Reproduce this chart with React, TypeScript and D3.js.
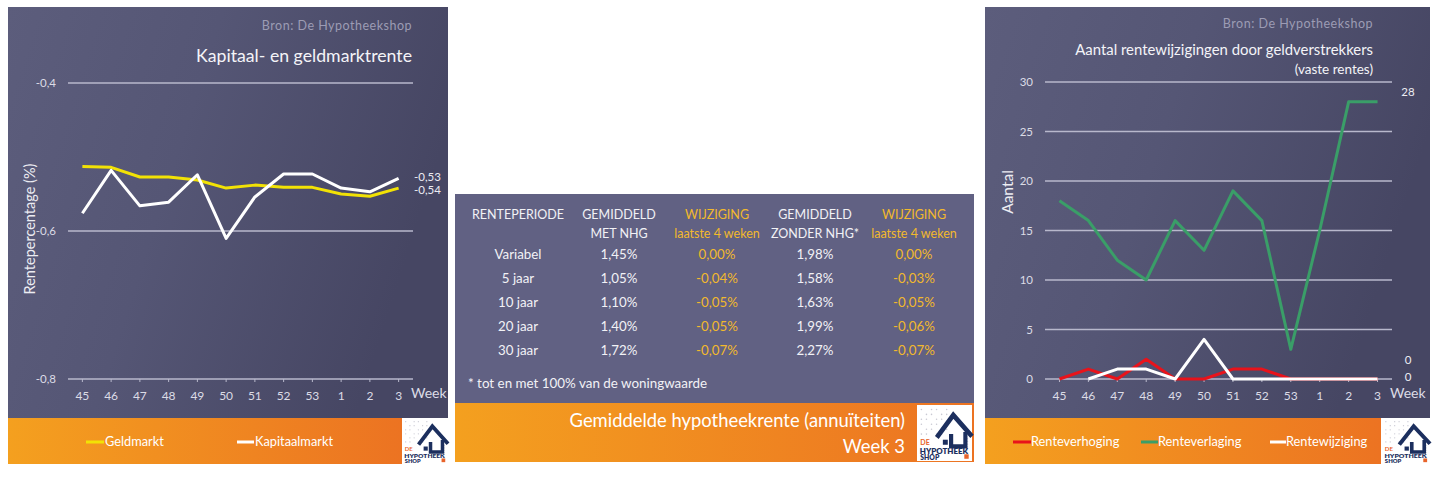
import React from 'react';
import * as d3 from 'd3';

// ---------- data ----------
const weeks = ['45', '46', '47', '48', '49', '50', '51', '52', '53', '1', '2', '3'];
const geldmarkt = [-0.513, -0.514, -0.527, -0.527, -0.531, -0.542, -0.538, -0.541, -0.541, -0.55, -0.553, -0.542];
const kapitaalmarkt = [-0.576, -0.518, -0.566, -0.561, -0.524, -0.61, -0.554, -0.523, -0.523, -0.542, -0.547, -0.529];
const leftTicks = [-0.8, -0.6, -0.4];

const renteverhoging: (number | null)[] = [0, 1, 0, 2, 0, 0, 1, 1, 0, 0, 0, 0];
const renteverlaging: (number | null)[] = [18, 16, 12, 10, 16, 13, 19, 16, 3, 15, 28, 28];
const rentewijziging: (number | null)[] = [null, 0, 1, 1, 0, 4, 0, 0, 0, 0, 0, 0];
const rightTicks = [0, 5, 10, 15, 20, 25, 30];

const tableHeader1 = ['RENTEPERIODE', 'GEMIDDELD', 'WIJZIGING', 'GEMIDDELD', 'WIJZIGING'];
const tableHeader2 = ['', 'MET NHG', 'laatste 4 weken', 'ZONDER NHG*', 'laatste 4 weken'];
const periodes = ['Variabel', '5 jaar', '10 jaar', '20 jaar', '30 jaar'];
const metNhg = ['1,45%', '1,05%', '1,10%', '1,40%', '1,72%'];
const wijzigingMet = ['0,00%', '-0,04%', '-0,05%', '-0,05%', '-0,07%'];
const zonderNhg = ['1,98%', '1,58%', '1,63%', '1,99%', '2,27%'];
const wijzigingZonder = ['0,00%', '-0,03%', '-0,05%', '-0,06%', '-0,07%'];

// ---------- styles ----------
const FONT = 'Lato, "Open Sans", sans-serif';
const GRID = '#b8b8cc';
const TICK_TXT = '#dcdce6';
const GOLD = '#f2b92c';
const YELLOW = '#f2e205';
const GREEN = '#3a9e68';
const RED = '#e8131b';
const NAVY = '#1c2f5e';

const comma = (v: number, d: number) => d3.format(`.${d}f`)(v).replace('.', ',').replace('−', '-');

function Logo({ x, y, w, h }: { x: number; y: number; w: number; h: number }) {
  const dots: JSX.Element[] = [];
  for (let i = 0; i < 6; i++) {
    for (let j = 0; j < 6; j++) {
      if ((i + j) % 3 === 1) continue;
      dots.push(<circle key={`${i}-${j}`} cx={4 + i * 4.6} cy={4 + j * 4.4} r={0.7} fill="#c9c9d3" />);
    }
  }
  for (let j = 0; j < 7; j++) {
    dots.push(<circle key={`r${j}`} cx={46} cy={30 + j * 2.5} r={0.6} fill="#d0d0d8" />);
  }
  return (
    <g transform={`translate(${x},${y}) scale(${w / 50},${h / 50})`}>
      <rect width={50} height={50} fill="#ffffff" />
      {dots}
      <path d="M18,29 L33,9 L50,28" stroke={NAVY} strokeWidth={4.2} fill="none" strokeLinejoin="miter" />
      <path d="M31,26 L31,37 L44,37 L44,24" stroke={NAVY} strokeWidth={3.8} fill="none" />
      <rect x={23.5} y={31} width={4.5} height={4.5} fill={NAVY} />
      <text x={3} y={36} fontSize={6.4} fontWeight={700} fill="#e8632a" fontFamily={FONT}>DE</text>
      <text x={2.5} y={43.5} fontSize={6.4} fontWeight={800} fill={NAVY} fontFamily={FONT} textLength={44} lengthAdjust="spacingAndGlyphs">HYPOTHEEK</text>
      <text x={3} y={49.3} fontSize={6.2} fontWeight={800} fill={NAVY} fontFamily={FONT}>SHOP</text>
      <rect x={43} y={44} width={4} height={4} fill="#e8632a" />
    </g>
  );
}

function LeftChart() {
  const x = d3.scaleBand<string>().domain(weeks).range([68, 413]);
  const y = d3.scaleLinear().domain([-0.8, -0.4]).range([379, 83]);
  const cx = (w: string) => (x(w) as number) + x.bandwidth() / 2;
  const line = d3
    .line<number>()
    .x((_, i) => cx(weeks[i]))
    .y((d) => y(d));
  const last = weeks.length - 1;
  return (
    <g fontFamily={FONT}>
      <rect x={8} y={7} width={440} height={411} fill="url(#panelGrad)" />
      <rect x={8} y={418} width={394} height={46} fill="url(#orangeGrad)" />
      <Logo x={402} y={418} w={46} h={46} />
      <text x={412} y={30} textAnchor="end" fontSize={12.5} letterSpacing={0.5} fill="#9c9cb4">Bron: De Hypotheekshop</text>
      <text x={412} y={62} textAnchor="end" fontSize={17.7} fill="#f4f4f8">Kapitaal- en geldmarktrente</text>
      {leftTicks.map((t) => (
        <g key={t}>
          <line x1={68} x2={413} y1={y(t)} y2={y(t)} stroke={GRID} strokeWidth={1.6} />
          <text x={56} y={y(t)} dy="0.35em" textAnchor="end" fontSize={11.5} fill={TICK_TXT}>{comma(t, 1)}</text>
        </g>
      ))}
      {weeks.map((w) => (
        <g key={w}>
          <line x1={cx(w)} x2={cx(w)} y1={y(-0.8)} y2={y(-0.8) + 3} stroke={GRID} strokeWidth={1} />
          <text x={cx(w)} y={396} dy="0.35em" textAnchor="middle" fontSize={12} fill={TICK_TXT}>{w}</text>
        </g>
      ))}
      <text x={411} y={393} dy="0.35em" fontSize={14} fill={TICK_TXT}>Week</text>
      <text transform={`translate(30,229) rotate(-90)`} textAnchor="middle" dy="0.35em" fontSize={14.5} fill="#ececf2">Rentepercentage (%)</text>
      <path d={line(geldmarkt) || ''} fill="none" stroke={YELLOW} strokeWidth={3} strokeLinejoin="round" />
      <path d={line(kapitaalmarkt) || ''} fill="none" stroke="#ffffff" strokeWidth={3} strokeLinejoin="round" />
      <text x={414} y={y(kapitaalmarkt[last]) - 1} dy="0.35em" fontSize={11.5} fill="#ececf2">{comma(kapitaalmarkt[last], 2)}</text>
      <text x={414} y={y(geldmarkt[last]) + 1.5} dy="0.35em" fontSize={11.5} fill="#ececf2">{comma(geldmarkt[last], 2)}</text>
      {/* legend */}
      <line x1={86} x2={104} y1={442} y2={442} stroke={YELLOW} strokeWidth={3} />
      <text x={105} y={442} dy="0.35em" fontSize={12.8} fill="#ffffff">Geldmarkt</text>
      <line x1={237} x2={254} y1={442} y2={442} stroke="#ffffff" strokeWidth={3} />
      <text x={255} y={442} dy="0.35em" fontSize={12.8} fill="#ffffff">Kapitaalmarkt</text>
    </g>
  );
}

function RightChart() {
  const x = d3.scaleBand<string>().domain(weeks).range([1045, 1392]);
  const y = d3.scaleLinear().domain([0, 30]).range([379, 82]);
  const cx = (w: string) => (x(w) as number) + x.bandwidth() / 2;
  const line = d3
    .line<number | null>()
    .defined((d) => d !== null)
    .x((_, i) => cx(weeks[i]))
    .y((d) => y(d as number));
  const last = weeks.length - 1;
  return (
    <g fontFamily={FONT}>
      <rect x={985} y={7} width={445} height={411} fill="url(#panelGrad)" />
      <rect x={985} y={418} width={396} height={46} fill="url(#orangeGrad)" />
      <Logo x={1382} y={418} w={48} h={46} />
      <text x={1373} y={28} textAnchor="end" fontSize={12.5} letterSpacing={0.5} fill="#9c9cb4">Bron: De Hypotheekshop</text>
      <text x={1373} y={55} textAnchor="end" fontSize={14.9} fill="#f4f4f8">Aantal rentewijzigingen door geldverstrekkers</text>
      <text x={1373} y={74} textAnchor="end" fontSize={13.5} fill="#f4f4f8">(vaste rentes)</text>
      {rightTicks.map((t) => (
        <g key={t}>
          <line x1={1045} x2={1392} y1={y(t)} y2={y(t)} stroke={GRID} strokeWidth={1.6} />
          <text x={1033} y={y(t)} dy="0.35em" textAnchor="end" fontSize={11.5} fill={TICK_TXT}>{t}</text>
        </g>
      ))}
      {weeks.map((w) => (
        <g key={w}>
          <line x1={cx(w)} x2={cx(w)} y1={y(0)} y2={y(0) + 3} stroke={GRID} strokeWidth={1} />
          <text x={cx(w)} y={396} dy="0.35em" textAnchor="middle" fontSize={12} fill={TICK_TXT}>{w}</text>
        </g>
      ))}
      <text x={1390} y={393} dy="0.35em" fontSize={14} fill={TICK_TXT}>Week</text>
      <text transform={`translate(1008,192) rotate(-90)`} textAnchor="middle" dy="0.35em" fontSize={15.5} fill="#ececf2">Aantal</text>
      <path d={line(renteverhoging) || ''} fill="none" stroke={RED} strokeWidth={3} strokeLinejoin="round" />
      <path d={line(renteverlaging) || ''} fill="none" stroke={GREEN} strokeWidth={3} strokeLinejoin="round" />
      <path d={line(rentewijziging) || ''} fill="none" stroke="#ffffff" strokeWidth={3} strokeLinejoin="round" />
      <text x={1408} y={y(renteverlaging[last] as number) - 10} dy="0.35em" textAnchor="middle" fontSize={11.5} fill="#ececf2">{renteverlaging[last]}</text>
      <text x={1408} y={y(renteverhoging[last] as number) - 19} dy="0.35em" textAnchor="middle" fontSize={11.5} fill="#ececf2">{renteverhoging[last]}</text>
      <text x={1408} y={y(rentewijziging[last] as number) - 2} dy="0.35em" textAnchor="middle" fontSize={11.5} fill="#ececf2">{rentewijziging[last]}</text>
      {/* legend */}
      <line x1={1013} x2={1031} y1={442} y2={442} stroke={RED} strokeWidth={3} />
      <text x={1031} y={442} dy="0.35em" fontSize={12.8} fill="#ffffff">Renteverhoging</text>
      <line x1={1141} x2={1158} y1={442} y2={442} stroke={GREEN} strokeWidth={3} />
      <text x={1158} y={442} dy="0.35em" fontSize={12.8} fill="#ffffff">Renteverlaging</text>
      <line x1={1270} x2={1286} y1={442} y2={442} stroke="#ffffff" strokeWidth={3} />
      <text x={1286} y={442} dy="0.35em" fontSize={12.8} fill="#ffffff">Rentewijziging</text>
    </g>
  );
}

function Table() {
  const colX = [518, 619, 717, 815, 914];
  const rowY = d3.scalePoint<string>().domain(periodes).range([254, 350]);
  const columns = [periodes, metNhg, wijzigingMet, zonderNhg, wijzigingZonder];
  const colColor = ['#f2f2f6', '#f2f2f6', GOLD, '#f2f2f6', GOLD];
  return (
    <g fontFamily={FONT}>
      <rect x={455} y={194} width={519} height={209} fill="#616183" />
      <rect x={455} y={403} width={519} height={59} fill="url(#orangeGrad)" />
      <Logo x={917} y={405} w={55} h={56} />
      {tableHeader1.map((h, i) => (
        <text key={`h1${i}`} x={colX[i]} y={215} dy="0.35em" textAnchor="middle" fontSize={12.5} fill={colColor[i]}>{h}</text>
      ))}
      {tableHeader2.map((h, i) => (
        <text key={`h2${i}`} x={colX[i]} y={234} dy="0.35em" textAnchor="middle" fontSize={12.5} fill={colColor[i]}>{h}</text>
      ))}
      {columns.map((col, ci) =>
        col.map((v, ri) => (
          <text key={`${ci}-${ri}`} x={colX[ci]} y={rowY(periodes[ri]) as number} dy="0.35em" textAnchor="middle" fontSize={13.3} fill={colColor[ci]}>{v}</text>
        ))
      )}
      <text x={468} y={383} dy="0.35em" fontSize={13.4} fill="#f2f2f6">* tot en met 100% van de woningwaarde</text>
      <text x={905} y={427} textAnchor="end" fontSize={18.4} fill="#ffffff">Gemiddelde hypotheekrente (annuïteiten)</text>
      <text x={905} y={453} textAnchor="end" fontSize={18.4} fill="#ffffff">Week 3</text>
    </g>
  );
}

export default function App() {
  return (
    <svg width={1440} height={478} style={{ position: 'absolute', left: 0, top: 0, background: '#ffffff' }}>
      <defs>
        <linearGradient id="panelGrad" x1="0" y1="0" x2="1" y2="0.3">
          <stop offset="0" stopColor="#5c5d7c" />
          <stop offset="0.45" stopColor="#555675" />
          <stop offset="1" stopColor="#464663" />
        </linearGradient>
        <linearGradient id="orangeGrad" x1="0" y1="0" x2="1" y2="0">
          <stop offset="0" stopColor="#f4a01f" />
          <stop offset="1" stopColor="#ec7322" />
        </linearGradient>
      </defs>
      <rect x={0} y={0} width={1440} height={478} fill="#ffffff" />
      <LeftChart />
      <Table />
      <RightChart />
    </svg>
  );
}
